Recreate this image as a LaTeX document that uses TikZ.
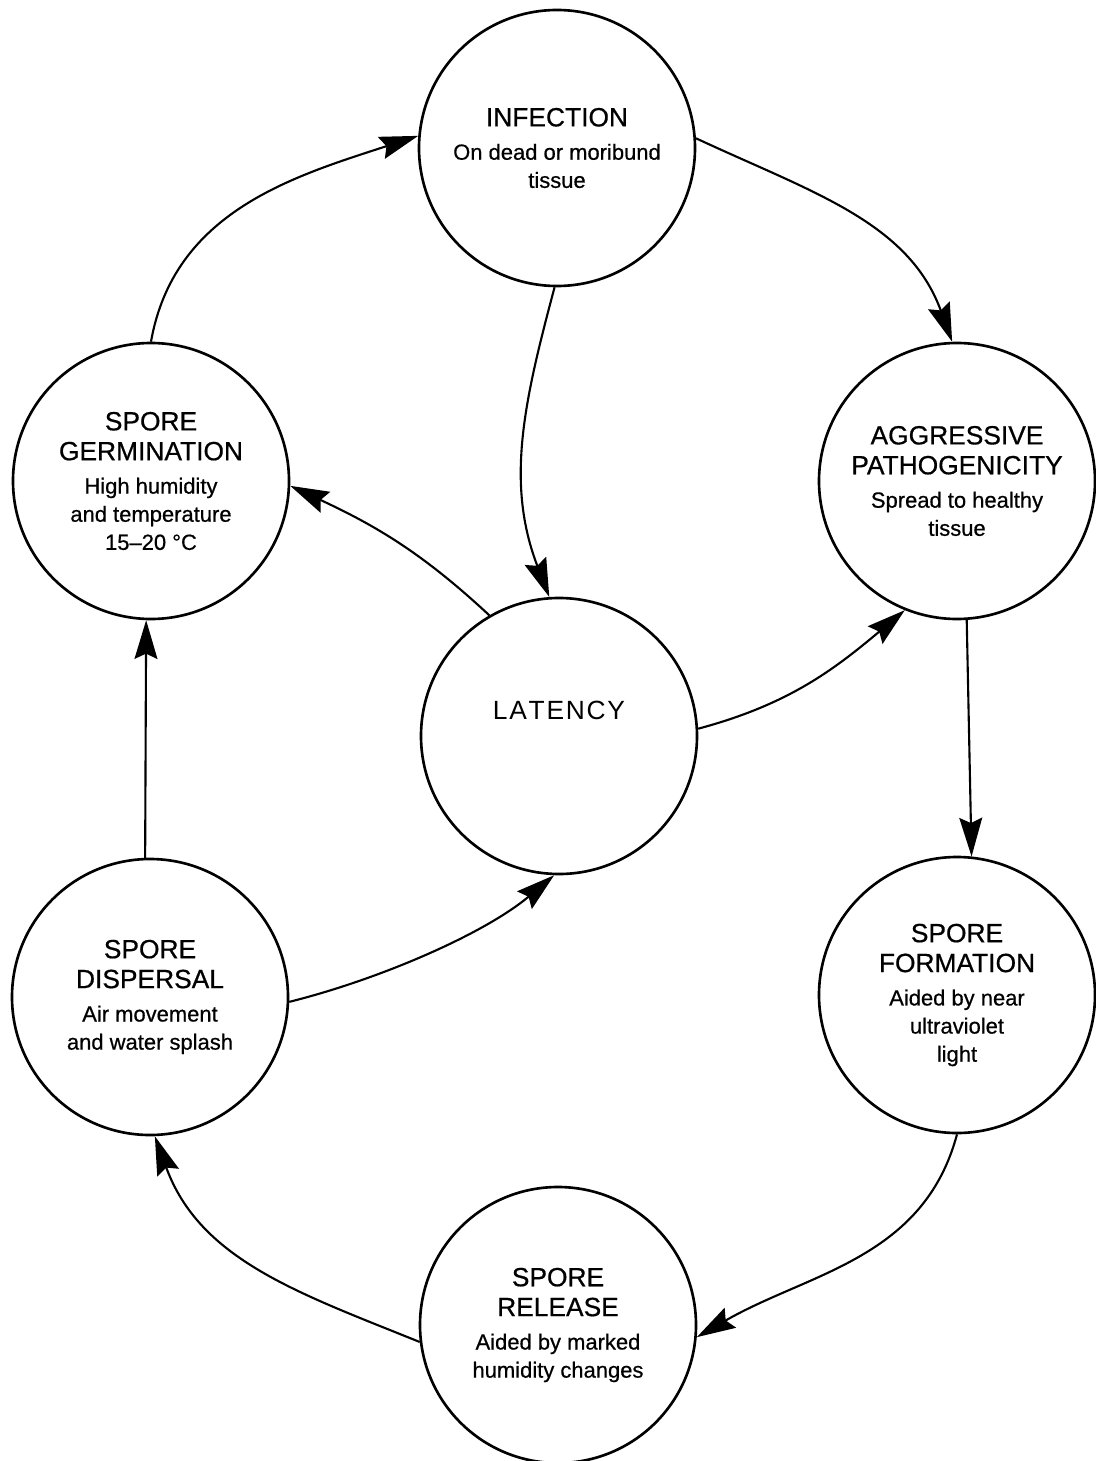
\documentclass[tikz,border=0pt]{standalone}
\usepackage{fontspec}
\setmainfont{Liberation Sans}
\newfontfamily\stagenotefont[FakeBold=0.6]{Liberation Sans}
\usetikzlibrary{arrows.meta}
\newcommand{\stagehead}[1]{{\fontsize{15}{17}\selectfont #1}}

\begin{document}
\begin{tikzpicture}[
  stage/.style={circle,draw,line width=1.5pt,minimum size=5.52cm,inner sep=0pt,
    align=center,font=\stagenotefont\fontsize{12.5}{16}\selectfont},
  cycle/.style={line width=1.2pt,-{Stealth[length=22pt,width=13pt,inset=3pt]}},
  headtext/.style={font=\fontsize{15}{17}\selectfont}]

\useasboundingbox (0,0) rectangle (21.92,-29.22);

\node[stage] (inf) at (11.14,-2.96) {\stagehead{INFECTION}\\[3pt]On dead or moribund\\tissue};
\node[stage] (agg) at (19.14,-9.62) {\stagehead{AGGRESSIVE}\\[1pt]\stagehead{PATHOGENICITY}\\[3pt]Spread to healthy\\tissue};
\node[stage] (germ) at (3.02,-9.62) {\stagehead{SPORE}\\[1pt]\stagehead{GERMINATION}\\[3pt]High humidity\\and temperature\\15–20 °C};
\node[stage] (lat) at (11.18,-14.72) {};
\node[headtext] (lattext) at (11.18,-14.2) {L\kern1pt A\kern1pt T\kern1pt E\kern1pt N\kern1pt C\kern1pt Y};
\node[stage] (disp) at (3.00,-19.94) {\stagehead{SPORE}\\[1pt]\stagehead{DISPERSAL}\\[3pt]Air movement\\and water splash};
\node[stage] (form) at (19.14,-19.90) {\stagehead{SPORE}\\[1pt]\stagehead{FORMATION}\\[3pt]Aided by near\\ultraviolet\\light};
\node[stage] (rel) at (11.16,-26.50) {\stagehead{SPORE}\\[1pt]\stagehead{RELEASE}\\[3pt]Aided by marked\\humidity changes};

\draw[cycle] (germ.90) to[out=80,in=198] (inf.175);
\draw[cycle] (inf.4) to[out=-25,in=110] (agg.92);
\draw[cycle] (inf.-91) to[out=-105,in=111] (lat.94);
\draw[cycle] (lat.120) to[out=137,in=-25] (germ.-2);
\draw[cycle] (lat.3) to[out=15,in=220] (agg.-112);
\draw[cycle] (agg.-86) -- (form.84);
\draw[cycle] (form.-90) to[out=-105,in=30] (rel.-5);
\draw[cycle] (rel.-173) to[out=158,in=-70] (disp.-88);
\draw[cycle] (disp.-2) to[out=14,in=220,looseness=0.8] (lat.-92);
\draw[cycle] (disp.92) -- (germ.-92);

\end{tikzpicture}
\end{document}
